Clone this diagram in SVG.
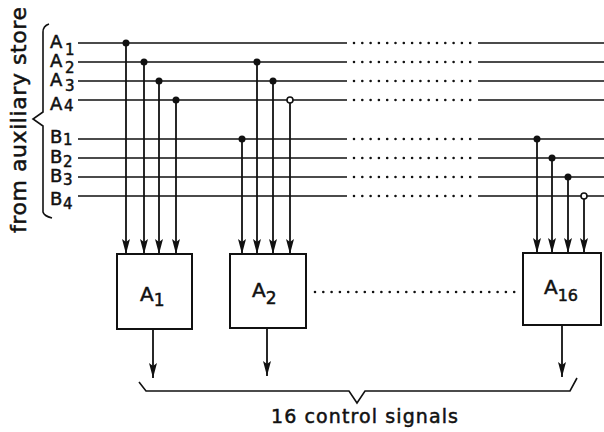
<svg xmlns="http://www.w3.org/2000/svg" width="604" height="432" viewBox="0 0 604 432">
<defs>
<style>
.ln{stroke:#111;stroke-width:1.6;fill:none}
.dl{stroke:#111;stroke-width:2.6;stroke-linecap:round;stroke-dasharray:0 8.3;fill:none}
.v{stroke:#111;stroke-width:1.8;fill:none}
.box{stroke:#111;stroke-width:2;fill:#fff}
.dot{fill:#111}
.ring{fill:#fff;stroke:#111;stroke-width:1.6}
.t{font-family:"DejaVu Sans",sans-serif;fill:#111;stroke:#111;stroke-width:0.5}
</style>
<marker id="ah" markerWidth="15" markerHeight="8" refX="15" refY="4" orient="auto" markerUnits="userSpaceOnUse" viewBox="0 0 15 8">
<path d="M0,0 L15,4 L0,8 L3,4 Z" fill="#111"/>
</marker>
</defs>
<rect width="604" height="432" fill="#fff"/>

<g id="source-label">
<text class="t" font-size="22" transform="translate(26,233) rotate(-90)" textLength="226" lengthAdjust="spacing">from  auxiliary  store</text>
<path class="ln" d="M49,24 Q43,26 43,32 L43,112 L33,119 L43,126 L43,212 Q44,216 52,218"/>
</g>

<g id="input-labels" class="t" font-size="18">
<text x="50" y="48">A</text><text x="65" y="55" font-size="15">1</text>
<text x="50" y="67">A</text><text x="65" y="73" font-size="15">2</text>
<text x="50" y="86">A</text><text x="65" y="91" font-size="15">3</text>
<text x="50" y="110">A</text><text x="64" y="111" font-size="15">4</text>
<text x="50" y="143">B</text><text x="63" y="145" font-size="15">1</text>
<text x="50" y="163">B</text><text x="63" y="167" font-size="15">2</text>
<text x="50" y="182">B</text><text x="63" y="185" font-size="15">3</text>
<text x="50" y="205">B</text><text x="63" y="209" font-size="15">4</text>
</g>

<g id="bus-lines">
<path class="ln" d="M78,43H347M478,43H604M78,62H347M478,62H604M78,81H347M478,81H604M78,100H347M478,100H604M78,139H347M478,139H604M78,158H347M478,158H604M78,177H347M478,177H604M78,196H347M478,196H604"/>
<path class="dl" d="M354,43H472M354,62H472M354,81H472M354,100H472M354,139H472M354,158H472M354,177H472M354,196H472"/>
</g>

<g id="connectors">
<path class="v" marker-end="url(#ah)" d="M126,43V254"/>
<path class="v" marker-end="url(#ah)" d="M144,62V254"/>
<path class="v" marker-end="url(#ah)" d="M159,81V254"/>
<path class="v" marker-end="url(#ah)" d="M176,100V254"/>
<path class="v" marker-end="url(#ah)" d="M242,139V254"/>
<path class="v" marker-end="url(#ah)" d="M257,62V254"/>
<path class="v" marker-end="url(#ah)" d="M273,81V254"/>
<path class="v" marker-end="url(#ah)" d="M290,100V254"/>
<path class="v" marker-end="url(#ah)" d="M537,139V253"/>
<path class="v" marker-end="url(#ah)" d="M552,158V253"/>
<path class="v" marker-end="url(#ah)" d="M568,177V253"/>
<path class="v" marker-end="url(#ah)" d="M584,196V253"/>
<path class="v" marker-end="url(#ah)" d="M153,329V378"/>
<path class="v" marker-end="url(#ah)" d="M267,328V376"/>
<path class="v" marker-end="url(#ah)" d="M562,325V377"/>
<circle class="dot" cx="126" cy="43" r="3.5"/>
<circle class="dot" cx="144" cy="62" r="3.5"/>
<circle class="dot" cx="159" cy="81" r="3.5"/>
<circle class="dot" cx="176" cy="100" r="3.5"/>
<circle class="dot" cx="242" cy="139" r="3.5"/>
<circle class="dot" cx="257" cy="62" r="3.5"/>
<circle class="dot" cx="273" cy="81" r="3.5"/>
<circle class="ring" cx="290" cy="100" r="3"/>
<circle class="dot" cx="537" cy="139" r="3.5"/>
<circle class="dot" cx="552" cy="158" r="3.5"/>
<circle class="dot" cx="568" cy="177" r="3.5"/>
<circle class="ring" cx="584" cy="196" r="3"/>
</g>

<g id="box-A1">
<rect class="box" x="117" y="254" width="75" height="75"/>
<text class="t" font-size="20" x="140" y="301">A<tspan font-size="17" dy="5">1</tspan></text>
</g>
<g id="box-A2">
<rect class="box" x="230" y="254" width="76" height="74"/>
<text class="t" font-size="20" x="252" y="297">A<tspan font-size="17" dy="7">2</tspan></text>
</g>
<g id="box-dots">
<path class="dl" d="M315,292H516" stroke-dasharray="0 13.4"/>
</g>
<g id="box-A16">
<rect class="box" x="523" y="253" width="78" height="72"/>
<text class="t" font-size="20" x="544" y="294">A<tspan font-size="16" dy="7">16</tspan></text>
</g>

<g id="output-label">
<path class="ln" d="M139,382L146,391H349L357,403L365,391H570L577,378"/>
<text class="t" font-size="19" x="271" y="423" textLength="187" lengthAdjust="spacing">16 control  signals</text>
</g>
</svg>
